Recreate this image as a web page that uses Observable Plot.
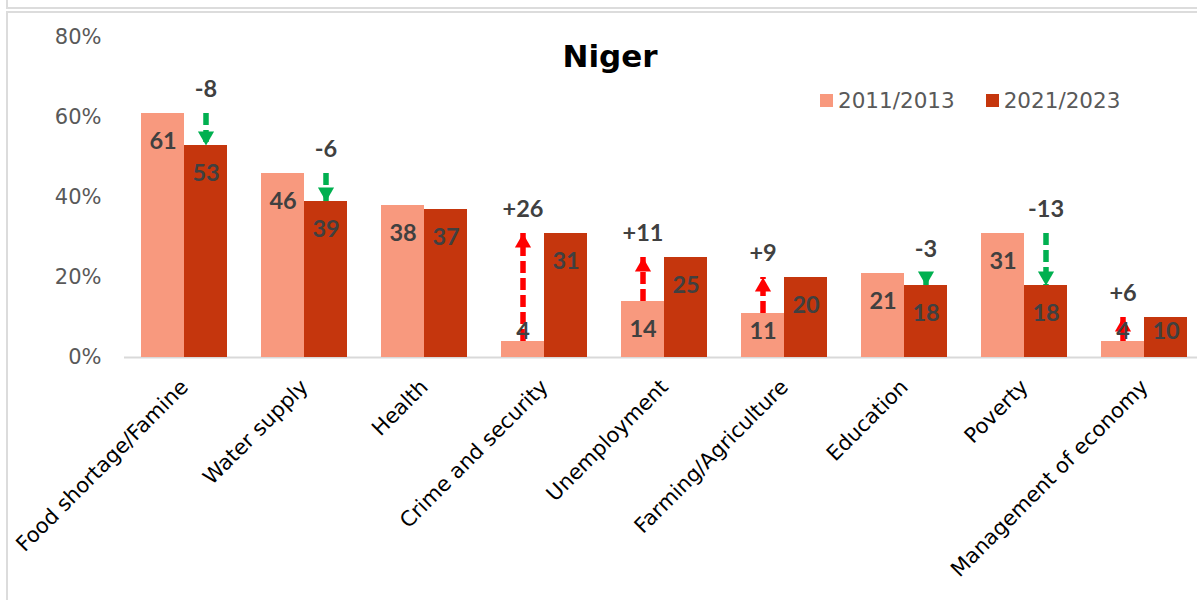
<!DOCTYPE html>
<html>
<head>
<meta charset="utf-8">
<script src="https://cdn.jsdelivr.net/npm/d3@7"></script>
<script src="https://cdn.jsdelivr.net/npm/@observablehq/plot@0.6"></script>
<style>
  html, body { margin: 0; padding: 0; background: #fff; overflow: hidden; }
  #wrap { position: relative; width: 1197px; height: 600px; overflow: hidden; }
  #chart { position: absolute; left: 0; top: 0; }
  .frame1 { position: absolute; left: 6px; top: -11px; width: 1300px; height: 16px; border: 2px solid #dcdcdc; pointer-events: none; }
  .frame2 { position: absolute; left: 6px; top: 11px; width: 1300px; height: 700px; border-left: 2px solid #dcdcdc; border-top: 2px solid #dcdcdc; pointer-events: none; }
  #title { position: absolute; left: 610px; top: 40.5px; transform: translateX(-50%); font-family: "DejaVu Sans", sans-serif; font-weight: bold; font-size: 31px; line-height: 31px; color: #000; white-space: nowrap; }
  #legend { position: absolute; left: 820px; top: 90px; display: flex; align-items: center; font-family: "DejaVu Sans", sans-serif; font-size: 21.5px; line-height: 21.5px; color: #595959; white-space: nowrap; }
  #legend .item { display: flex; align-items: center; margin-right: 31px; }
  #legend .sw { width: 13px; height: 13px; margin-right: 5px; }
</style>
</head>
<body>
<div id="wrap">
  <div id="chart"></div>
  <div id="title"></div>
  <div id="legend"></div>
  <div class="frame1"></div>
  <div class="frame2"></div>
</div>
<script>
// ---- Data ----
const chartTitle = "Niger";
const categories = ["Food shortage/Famine", "Water supply", "Health", "Crime and security", "Unemployment", "Farming/Agriculture", "Education", "Poverty", "Management of economy"];
const series = ["2011/2013", "2021/2023"];
const values2011 = [61, 46, 38, 4, 14, 11, 21, 31, 4];
const values2021 = [53, 39, 37, 31, 25, 20, 18, 18, 10];
const changes = [-8, -6, null, 26, 11, 9, -3, -13, 6];
const yTicks = [0, 20, 40, 60, 80];
const seriesColors = ["#F8997E", "#C5360D"];
const upColor = "#FF0000";
const downColor = "#00B050";

// ---- Tables built from the arrays ----
const bars = categories.flatMap((c, i) => [
  {category: c, series: series[0], value: values2011[i]},
  {category: c, series: series[1], value: values2021[i]}
]);
const arrows = categories.map((c, i) => ({
  category: c,
  from: values2011[i],
  to: values2021[i],
  change: changes[i],
  series: changes[i] < 0 ? series[1] : series[0]
})).filter(d => d.change != null);
const ups = arrows.filter(d => d.change > 0);
const downs = arrows.filter(d => d.change < 0);

// minimum value at which a label is kept fully inside its bar
const LABEL_FLOOR = 13.4;

const headR = 6;
const headOffset = 2 * Math.sqrt(Math.PI * headR * headR / (3 * Math.sqrt(3)));

const plot = Plot.plot({
  width: 1210,
  height: 600,
  marginLeft: 123,
  marginRight: 5,
  marginTop: 37,
  marginBottom: 243,
  style: {background: "transparent", maxWidth: "none", overflow: "visible", fontFamily: "DejaVu Sans, sans-serif"},
  fx: {domain: categories, paddingInner: 0.28, paddingOuter: 0.14, label: null},
  x: {domain: series, padding: 0, axis: null},
  y: {domain: [0, 80], axis: null},
  color: {domain: series, range: seriesColors},
  marks: [
    Plot.ruleY([0], {stroke: "#d9d9d9", strokeWidth: 2, insetLeft: -17, insetRight: -17}),
    Plot.barY(bars, {fx: "category", x: "series", y: "value", fill: "series"}),
    // arrows: shafts
    Plot.ruleX(ups, {fx: "category", x: "series", y1: "from", y2: "to", stroke: upColor, strokeWidth: 5.5, strokeDasharray: "12,5"}),
    Plot.ruleX(downs, {fx: "category", x: "series", y1: "from", y2: "to", stroke: downColor, strokeWidth: 5.5, strokeDasharray: "12,5"}),
    // arrows: heads
    Plot.dot(ups, {fx: "category", x: "series", y: "to", symbol: "triangle", r: headR, fill: upColor, stroke: null, dy: headOffset}),
    Plot.dot(downs, {fx: "category", x: "series", y: "to", symbol: "triangle", r: headR, fill: downColor, stroke: null, rotate: 180, dy: -headOffset}),
    // value labels
    Plot.text(bars, {fx: "category", x: "series", y: d => Math.max(d.value, LABEL_FLOOR), dy: 27.5, text: d => String(d.value), fontSize: 23.5, fontWeight: "bold", fontFamily: "Lato, sans-serif", fill: "#404040"}),
    // change labels
    Plot.text(arrows, {fx: "category", x: "series", y: d => Math.max(d.from, d.to), dy: -24, text: d => (d.change > 0 ? "+" : "") + d.change, fontSize: 23.5, fontWeight: "bold", fontFamily: "Lato, sans-serif", fill: "#404040"}),
    Plot.axisY(yTicks, {anchor: "left", tickSize: 0, tickPadding: 40, tickFormat: d => d + "%", fontSize: 21, fill: "#595959", label: null}),
    Plot.axisFx({anchor: "bottom", tickSize: 0, tickPadding: 26, tickRotate: -45, fontSize: 21, fill: "#000", label: null})
  ]
});
document.getElementById("chart").appendChild(plot);

document.getElementById("title").textContent = chartTitle;
const legend = document.getElementById("legend");
series.forEach((s, i) => {
  const item = document.createElement("div");
  item.className = "item";
  const sw = document.createElement("span");
  sw.className = "sw";
  sw.style.background = seriesColors[i];
  const label = document.createElement("span");
  label.textContent = s;
  item.appendChild(sw);
  item.appendChild(label);
  legend.appendChild(item);
});
</script>
</body>
</html>
